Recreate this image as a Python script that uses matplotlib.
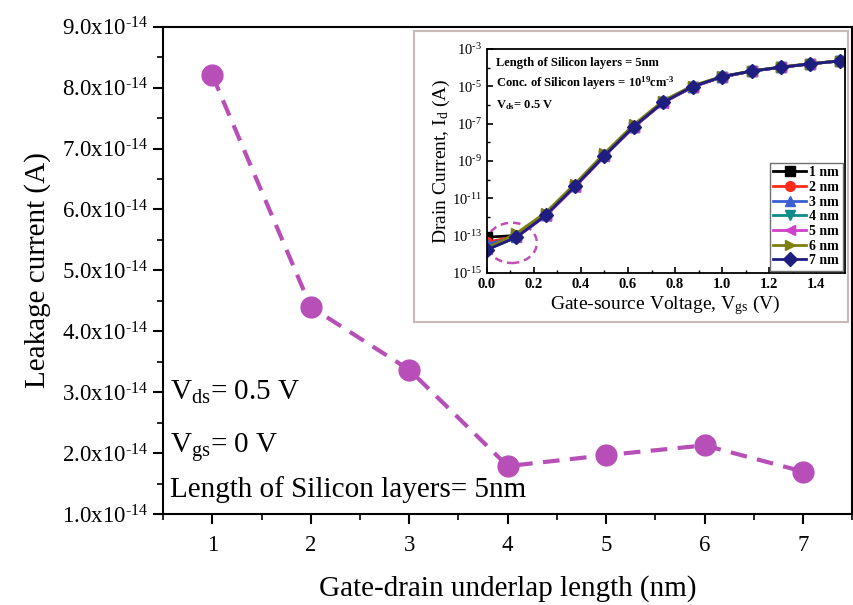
import numpy as np
import matplotlib
matplotlib.use("Agg")
import matplotlib.pyplot as plt
from matplotlib.ticker import FuncFormatter, MultipleLocator, LogLocator, NullFormatter
from matplotlib.patches import Ellipse, Rectangle

plt.rcParams['font.family'] = ['Liberation Serif', 'DejaVu Serif']
plt.rcParams['mathtext.fontset'] = 'custom'
plt.rcParams['mathtext.rm'] = 'Liberation Serif'
plt.rcParams['mathtext.it'] = 'Liberation Serif:italic'
plt.rcParams['mathtext.bf'] = 'Liberation Serif:bold'

# main chart: leakage current vs gate-drain underlap
underlap = [1, 2, 3, 4, 5, 6, 7]
leakage = [8.2e-14, 4.4e-14, 3.37e-14, 1.79e-14, 1.97e-14, 2.13e-14, 1.70e-14]
y_ticks = [1e-14, 2e-14, 3e-14, 4e-14, 5e-14, 6e-14, 7e-14, 8e-14, 9e-14]

# inset: transfer curves
vgs = [0.0, 0.125, 0.25, 0.375, 0.5, 0.625, 0.75, 0.875, 1.0, 1.125, 1.25, 1.375, 1.5]
id_1nm = [8.2e-14, 1.0e-13, 1.3e-12, 4.5e-11, 2.0e-9, 7.0e-8, 1.4e-6, 9.5e-6, 3.2e-5, 6.5e-5, 1.05e-4, 1.6e-4, 2.3e-4]
id_2nm = [4.4e-14, 9.0e-14, 1.3e-12, 4.5e-11, 2.0e-9, 7.0e-8, 1.4e-6, 9.5e-6, 3.2e-5, 6.5e-5, 1.05e-4, 1.6e-4, 2.3e-4]
id_3nm = [3.4e-14, 8.5e-14, 1.2e-12, 4.3e-11, 1.9e-9, 6.8e-8, 1.4e-6, 9.5e-6, 3.2e-5, 6.5e-5, 1.05e-4, 1.6e-4, 2.3e-4]
id_4nm = [1.8e-14, 8.0e-14, 1.2e-12, 4.3e-11, 1.9e-9, 6.8e-8, 1.4e-6, 9.5e-6, 3.2e-5, 6.5e-5, 1.05e-4, 1.6e-4, 2.3e-4]
id_5nm = [2.0e-14, 8.0e-14, 1.1e-12, 4.0e-11, 1.8e-9, 6.5e-8, 1.3e-6, 9.3e-6, 3.2e-5, 6.5e-5, 1.05e-4, 1.6e-4, 2.3e-4]
id_6nm = [2.1e-14, 1.3e-13, 1.7e-12, 6.0e-11, 2.6e-9, 9.0e-8, 1.7e-6, 1.1e-5, 3.4e-5, 6.7e-5, 1.1e-4, 1.65e-4, 2.35e-4]
id_7nm = [1.7e-14, 8.0e-14, 1.2e-12, 4.4e-11, 1.9e-9, 7.0e-8, 1.4e-6, 9.7e-6, 3.3e-5, 6.6e-5, 1.05e-4, 1.6e-4, 2.3e-4]

series = [("1 nm", id_1nm, "black", "s"),
          ("2 nm", id_2nm, "#ff2a1a", "o"),
          ("3 nm", id_3nm, "#3a5fd0", "^"),
          ("4 nm", id_4nm, "#108a8a", "v"),
          ("5 nm", id_5nm, "#d040c8", "<"),
          ("6 nm", id_6nm, "#7f7f10", ">"),
          ("7 nm", id_7nm, "#1e1e80", "D")]

fig = plt.figure(figsize=(8.54, 6.05), dpi=100)
ax = fig.add_axes([0.191, 0.150, 0.807, 0.806])

ax.plot(underlap, leakage, linestyle=(0, (4, 2.5)), color="#b84fb8", lw=3,
        marker="o", markersize=15, markerfacecolor="#b84fb8", markeredgecolor="#b84fb8")
ax.set_xlim(0.5, 7.5)
ax.set_ylim(1e-14, 9e-14)
ax.xaxis.set_major_locator(MultipleLocator(1))
ax.xaxis.set_minor_locator(MultipleLocator(0.5))
ax.set_yticks(y_ticks)
ax.yaxis.set_minor_locator(MultipleLocator(0.5e-14))
ax.yaxis.set_major_formatter(FuncFormatter(lambda v, p: r"%.1fx10$^{\text{-14}}$" % (v / 1e-14)))
ax.tick_params(which="major", direction="out", length=7, width=1.5, labelsize=16.5)
ax.tick_params(which="minor", direction="out", length=4, width=1.2)
ax.tick_params(axis="x", pad=8)
for s in ax.spines.values():
    s.set_linewidth(1.5)
ax.set_xlabel("Gate-drain underlap length (nm)", fontsize=21, labelpad=14)
ax.set_ylabel("Leakage current (A)", fontsize=21, labelpad=8)

ax.text(0.01, 0.235, r"V$_{\mathrm{ds}}$= 0.5 V", transform=ax.transAxes, fontsize=21)
ax.text(0.01, 0.125, r"V$_{\mathrm{gs}}$= 0 V", transform=ax.transAxes, fontsize=21)
ax.text(0.01, 0.035, "Length of Silicon layers= 5nm", transform=ax.transAxes, fontsize=21)

# inset frame
fig.patches.append(Rectangle((0.485, 0.468), 0.508, 0.481, transform=fig.transFigure,
                             facecolor="white", edgecolor="#c8b8b8", lw=1.5, zorder=2))

axi = fig.add_axes([0.570, 0.549, 0.419, 0.370])
axi.set_zorder(3)
for label, y, c, m in series:
    axi.plot(vgs, y, color=c, marker=m, markersize=7, lw=2, label=label)
axi.set_yscale("log")
axi.set_xlim(0, 1.52)
axi.set_ylim(1e-15, 1e-3)
axi.set_yticks([1e-15, 1e-13, 1e-11, 1e-9, 1e-7, 1e-5, 1e-3])
axi.yaxis.set_minor_locator(LogLocator(base=10, subs=[1.0], numticks=20))
axi.yaxis.set_minor_formatter(NullFormatter())
axi.yaxis.set_major_formatter(FuncFormatter(lambda v, p: r"10$^{\text{-%d}}$" % round(-np.log10(v))))
axi.xaxis.set_major_locator(MultipleLocator(0.2))
axi.xaxis.set_minor_locator(MultipleLocator(0.1))
axi.tick_params(which="both", direction="in")
axi.tick_params(axis="x", labelsize=10.5)
axi.tick_params(axis="y", labelsize=10.5)
axi.tick_params(which="major", length=4, width=1.2)
axi.tick_params(which="minor", length=2.5, width=1)
for lab in axi.get_xticklabels():
    lab.set_fontweight("bold")
for s in axi.spines.values():
    s.set_linewidth(1.3)
axi.set_xlabel(r"Gate-source Voltage, V$_{\mathrm{gs}}$ (V)", fontsize=14, labelpad=2)
axi.set_ylabel(r"Drain Current, I$_{\mathrm{d}}$ (A)", fontsize=14, labelpad=0)

axi.text(0.025, 0.925, "Length of Silicon layers = 5nm", transform=axi.transAxes,
         fontsize=9, fontweight="bold")
axi.text(0.025, 0.83, r"Conc. of Silicon layers = 10$^{\mathbf{19}}$cm$^{\mathbf{\text{-}3}}$",
         transform=axi.transAxes, fontsize=9, fontweight="bold")
axi.text(0.025, 0.735, r"V$_{\mathbf{ds}}$= 0.5 V", transform=axi.transAxes,
         fontsize=9, fontweight="bold")

axi.add_patch(Ellipse((0.07, 0.134), 0.14, 0.18, transform=axi.transAxes, fill=False,
                      edgecolor="#c04fb8", lw=1.8, linestyle=(0, (3, 2))))

leg = axi.legend(loc="lower right", fontsize=10, handlelength=2.4, labelspacing=0.12,
                 borderpad=0.25, handletextpad=0.2, fancybox=False, framealpha=1,
                 edgecolor="#707070", borderaxespad=0.15)
for t in leg.get_texts():
    t.set_fontweight("bold")

fig.savefig("out.png", dpi=100)
